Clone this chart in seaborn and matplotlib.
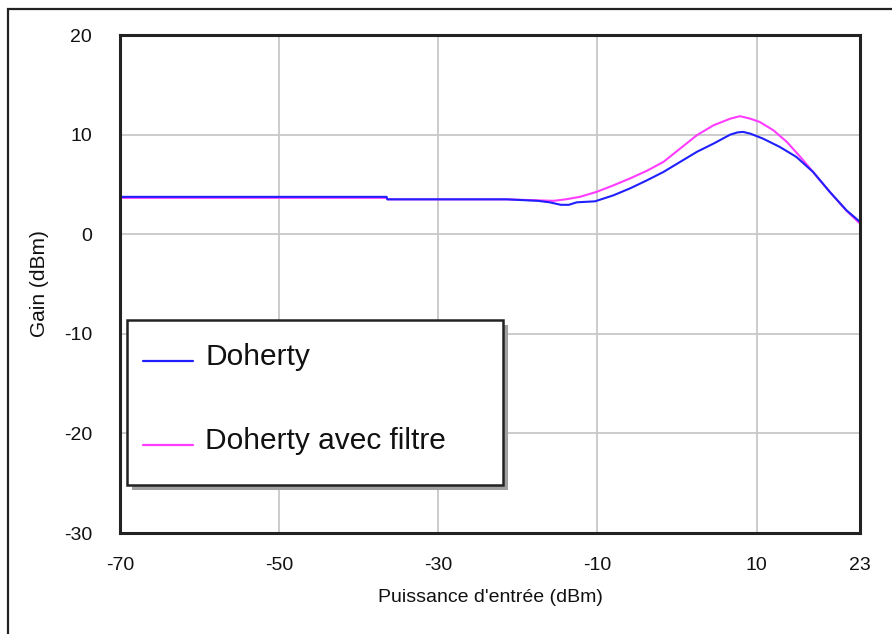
import numpy as np
import pandas as pd
import matplotlib
matplotlib.use("Agg")
import matplotlib.pyplot as plt
import seaborn as sns
from matplotlib.patches import Rectangle

# Gain versus input power (dBm)
power_doherty = [-70, -36.5, -36.4, -21.4, -17.5, -16.0, -14.6, -13.6, -12.6,
                 -10.3, -8.0, -5.9, -3.8, -1.7, 0.4, 2.5, 4.6, 6.7, 7.6, 8.3,
                 9.2, 10.8, 12.9, 15.0, 17.1, 19.2, 21.3, 23.0]
gain_doherty = [3.75, 3.75, 3.5, 3.5, 3.35, 3.2, 2.95, 2.95, 3.2,
                3.3, 3.9, 4.6, 5.4, 6.25, 7.26, 8.27, 9.1, 10.0, 10.22, 10.27,
                10.1, 9.6, 8.77, 7.76, 6.25, 4.25, 2.4, 1.24]

power_filtre = [-70, -36.5, -36.4, -21.4, -17.5, -15.5, -14.0, -12.2, -10.1,
                -8.0, -5.9, -3.8, -1.7, 0.4, 2.5, 4.6, 6.7, 7.9, 9.2, 10.4,
                12.1, 13.8, 15.5, 17.1, 19.2, 21.3, 23.0]
gain_filtre = [3.65, 3.65, 3.5, 3.5, 3.4, 3.35, 3.5, 3.75, 4.25,
               4.9, 5.6, 6.36, 7.26, 8.6, 9.94, 10.94, 11.6, 11.85, 11.6, 11.27,
               10.44, 9.27, 7.76, 6.25, 4.25, 2.35, 1.07]

x_ticks = [-70, -50, -30, -10, 10, 23]
y_ticks = [-30, -20, -10, 0, 10, 20]

df = pd.concat([
    pd.DataFrame({"Puissance": power_filtre, "Gain": gain_filtre, "Série": "Doherty avec filtre"}),
    pd.DataFrame({"Puissance": power_doherty, "Gain": gain_doherty, "Série": "Doherty"}),
])

sns.set_style("white")
plt.rcParams["font.family"] = ["Liberation Sans", "DejaVu Sans"]

fig = plt.figure(figsize=(8.92, 6.34), dpi=100)
ax = fig.add_axes([120 / 892, 1 - 533 / 634, 740 / 892, 498 / 634])

palette = {"Doherty": "#2020ff", "Doherty avec filtre": "#ff3cff"}
sns.lineplot(data=df, x="Puissance", y="Gain", hue="Série", palette=palette,
             hue_order=["Doherty avec filtre", "Doherty"], sort=False,
             estimator=None, linewidth=1.5, ax=ax, legend=False)

ax.set_xlim(-70, 23)
ax.set_ylim(-30, 20)
ax.set_xticks(x_ticks)
ax.set_yticks(y_ticks)
ax.set_xticklabels([str(v) for v in x_ticks], fontsize=14)
ax.set_yticklabels([str(v) for v in y_ticks], fontsize=14)
ax.tick_params(axis="x", pad=17, length=0, colors="#111111")
ax.tick_params(axis="y", pad=20, length=0, colors="#111111")
ax.grid(True, color="#c8c8c8", linewidth=1.3)
for s in ax.spines.values():
    s.set_color("#222222")
    s.set_linewidth(2.2)

ax.set_xlabel("Puissance d'entrée (dBm)", fontsize=14, color="#111111")
ax.set_ylabel("Gain (dBm)", fontsize=15, color="#111111")
ax.xaxis.set_label_coords(0.5, -0.113)
ax.yaxis.set_label_coords(-0.096, 0.5)

# Legend box with a drop shadow
lx0, ly0, lx1, ly1 = 127, 320, 503, 485


def to_fig(px, py):
    return px / 892, 1 - py / 634


w, h = (lx1 - lx0) / 892, (ly1 - ly0) / 634
fig.patches.append(Rectangle(to_fig(lx0 + 5, ly1 + 5), w, h,
                             transform=fig.transFigure, facecolor="#a0a0a0",
                             edgecolor="none", zorder=5))
fig.patches.append(Rectangle(to_fig(lx0, ly1), w, h,
                             transform=fig.transFigure, facecolor="white",
                             edgecolor="#222222", linewidth=1.8, zorder=6))
for label, line_y, text_y in [("Doherty", 360.5, 365), ("Doherty avec filtre", 445, 449)]:
    fig.add_artist(plt.Line2D([143 / 892, 193 / 892], [1 - line_y / 634] * 2,
                              transform=fig.transFigure, color=palette[label],
                              linewidth=1.6, zorder=7))
    fig.text(205 / 892, 1 - text_y / 634, label, fontsize=21.5, va="baseline",
             ha="left", color="#111111", zorder=7)

# Outer frame of the figure
fig.patches.append(Rectangle((8 / 892, -0.1), 1.2, 1 - 9 / 634 + 0.1,
                             transform=fig.transFigure, facecolor="none",
                             edgecolor="#222222", linewidth=1.6, zorder=0))

fig.savefig("out.png", dpi=100)
